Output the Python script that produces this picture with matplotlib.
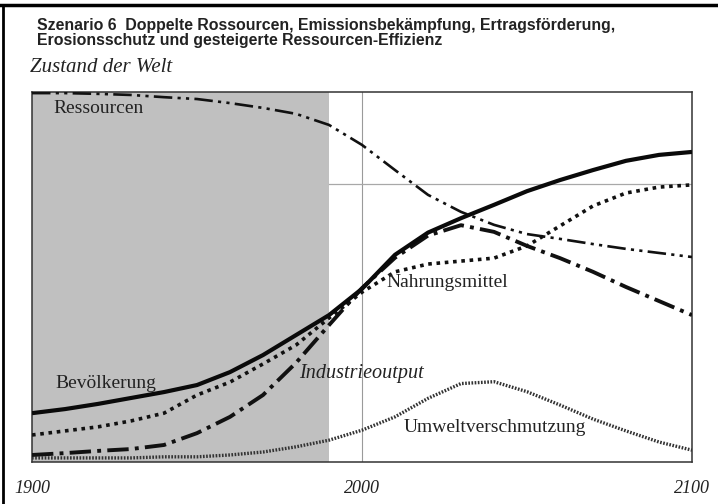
import matplotlib
matplotlib.use("Agg")
import matplotlib.pyplot as plt
from matplotlib.lines import Line2D

# ---- data (values relative to the chart height, 0 = bottom, 1 = top) ----
years = [1900, 1910, 1920, 1930, 1940, 1950, 1960, 1970, 1980, 1990, 2000,
         2010, 2020, 2030, 2040, 2050, 2060, 2070, 2080, 2090, 2100]
bevoelkerung = [0.132, 0.143, 0.157, 0.173, 0.189, 0.208, 0.243, 0.289, 0.343, 0.397, 0.468,
                0.560, 0.620, 0.659, 0.695, 0.732, 0.762, 0.789, 0.814, 0.830, 0.838]
nahrungsmittel = [0.073, 0.084, 0.095, 0.111, 0.132, 0.181, 0.216, 0.265, 0.316, 0.389, 0.459,
                  0.514, 0.535, 0.543, 0.551, 0.584, 0.638, 0.692, 0.727, 0.743, 0.749]
industrieoutput = [0.019, 0.024, 0.030, 0.035, 0.046, 0.078, 0.122, 0.181, 0.268, 0.370, 0.470,
                   0.552, 0.612, 0.640, 0.622, 0.584, 0.551, 0.514, 0.473, 0.435, 0.397]
ressourcen = [0.997, 0.997, 0.995, 0.992, 0.986, 0.981, 0.970, 0.957, 0.941, 0.911, 0.857,
              0.789, 0.722, 0.676, 0.641, 0.616, 0.603, 0.589, 0.576, 0.565, 0.554]
umwelt = [0.011, 0.011, 0.011, 0.011, 0.014, 0.014, 0.019, 0.027, 0.041, 0.059, 0.086,
          0.122, 0.172, 0.212, 0.217, 0.190, 0.154, 0.116, 0.084, 0.054, 0.032]
tick_years = [1900, 2000, 2100]
tick_labels = ["1900", "2000", "2100"]
history_end = 1990
ref_level = 0.751

title_lines = ["Szenario 6  Doppelte Rossourcen, Emissionsbekämpfung, Ertragsförderung,",
               "Erosionsschutz und gesteigerte Ressourcen-Effizienz"]

# ---- figure ----
fig = plt.figure(figsize=(7.18, 5.04), dpi=100)
fig.patch.set_facecolor("white")
W, H = 718, 504
x0, x1, ytop, ybot = 32, 692, 92, 462
ax = fig.add_axes([x0 / W, 1 - ybot / H, (x1 - x0) / W, (ybot - ytop) / H])
ax.set_xlim(1900, 2100)
ax.set_ylim(0, 1)

ax.axvspan(1900, history_end, color="#c0c0c0", zorder=0, lw=0)
ax.axvline(2000, color="#9a9a9a", lw=0.8, zorder=1)
ax.plot([history_end, 2100], [ref_level, ref_level], color="#a8a8a8", lw=0.9, zorder=1)

ax.plot(years, ressourcen, color="#111111", lw=1.9, ls=(0, (7, 2, 1.2, 2, 1.2, 2)), zorder=3)
ax.plot(years, umwelt, color="#333333", lw=2.4, ls=(0, (0.5, 0.45)), zorder=3)
ax.plot(years, nahrungsmittel, color="#111111", lw=2.6, ls=(0, (1, 1.3)), zorder=3)
ax.plot(years, industrieoutput, color="#111111", lw=2.8, ls=(0, (5.5, 1.6, 1, 1.6)), zorder=4)
ax.plot(years, bevoelkerung, color="#0a0a0a", lw=3.0, ls="-", solid_capstyle="butt", zorder=5)

serif = "Liberation Serif"
lab = dict(family=serif, fontsize=14, color="#222222", zorder=6)
ax.text(1906.5, 0.955, "Ressourcen", va="center", ha="left", **lab)
ax.text(1907, 0.212, "Bevölkerung", va="center", ha="left", **lab)
ax.text(2007.5, 0.484, "Nahrungsmittel", va="center", ha="left", **lab)
ax.text(2012.5, 0.092, "Umweltverschmutzung", va="center", ha="left", **lab)
ax.text(1981, 0.238, "Industrieoutput", va="center", ha="left", style="italic",
        **{**lab, "fontsize": 14.5})

ax.set_xticks(tick_years)
ax.set_xticklabels(tick_labels, family=serif, fontsize=13, style="italic", color="#222222")
ax.set_yticks([])
ax.tick_params(axis="x", length=0, pad=13)
for s in ax.spines.values():
    s.set_color("#333333")
    s.set_linewidth(1.1)

for i, line in enumerate(title_lines):
    fig.text(37 / W, 1 - (30 + 15.5 * i) / H, line, ha="left", va="baseline",
             family="Liberation Sans", fontweight="bold", fontsize=11.4, color="#222222")
fig.text(30 / W, 1 - 67 / H, "Zustand der Welt", ha="left", va="center", family=serif,
         style="italic", fontsize=15, color="#222222")

fig.add_artist(Line2D([0, 1], [1 - 5 / H, 1 - 5 / H], color="black", lw=2.5,
                      transform=fig.transFigure))
fig.add_artist(Line2D([2.5 / W, 2.5 / W], [0, 1 - 5 / H], color="black", lw=2.0,
                      transform=fig.transFigure))

fig.savefig("out.png", dpi=100)
